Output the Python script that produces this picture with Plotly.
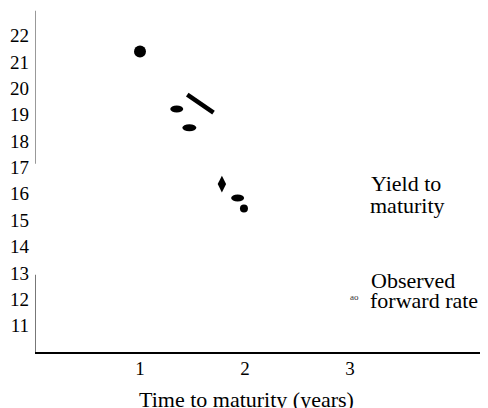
import plotly.graph_objects as go

# Data
y_ticks = [11, 12, 13, 14, 15, 16, 17, 18, 19, 20, 21, 22]
x_ticks = [1, 2, 3]

circle_x = [1.0, 1.99]
circle_y = [21.40, 15.44]
circle_size = [12, 8]

ellipse_x = [1.35, 1.47, 1.93]
ellipse_y = [19.22, 18.51, 15.84]
ellipse_w = [13, 14, 13]
ellipse_h = [7, 7, 7]

diamond_x = [1.78]
diamond_y = [16.37]

segment_x = [1.45, 1.70]
segment_y = [19.76, 19.08]

axis_segments = [(10.0, 12.93, "#777777"), (17.14, 22.95, "#999999")]

FONT = "Liberation Serif, Times New Roman, serif"

OFF = 8  # page body margin
W, H = 488 - OFF, 408 - OFF
ML, MR, MT, MB = 35 - OFF, 0, 0, 56
PW, PH = W - ML - MR, H - MT - MB
PX_X = 105.0
PX_Y = 26.36

def px(x):
    return (x - OFF - ML) / PW

def py(y):
    return (H - MB - (y - OFF)) / PH

fig = go.Figure()

fig.add_trace(go.Scatter(x=segment_x, y=segment_y, mode="lines",
                         line=dict(color="#000000", width=4.5), hoverinfo="skip"))
fig.add_trace(go.Scatter(x=circle_x, y=circle_y, mode="markers", opacity=1,
                         marker=dict(symbol="circle", size=circle_size, color="#000000",
                                     opacity=1, line=dict(width=0))))
fig.add_trace(go.Scatter(x=diamond_x, y=diamond_y, mode="markers",
                         marker=dict(symbol="diamond-tall", size=12, color="#000000",
                                     line=dict(width=0))))

shapes = []
for xv, yv, w, h in zip(ellipse_x, ellipse_y, ellipse_w, ellipse_h):
    shapes.append(dict(type="circle", xref="x", yref="y",
                       xsizemode="pixel", ysizemode="pixel",
                       xanchor=xv, yanchor=yv,
                       x0=-w / 2, x1=w / 2, y0=-h / 2, y1=h / 2,
                       fillcolor="black", line=dict(width=0)))
for y0, y1, col in axis_segments:
    shapes.append(dict(type="line", xref="x", yref="y", x0=0, x1=0, y0=y0, y1=y1,
                       line=dict(color=col, width=2)))

def label(text, x, y, size=22, anchor="left", color="black"):
    return dict(text=text, x=px(x), y=py(y), xref="paper", yref="paper",
                xanchor=anchor, yanchor="middle", align="left", showarrow=False,
                font=dict(family=FONT, size=size, color=color))

annotations = [
    label("Yield to", 369, 183.5),
    label("maturity", 368, 205),
    label("Observed", 369, 280.5),
    label("forward rate", 368, 300.5),
    label("ao", 354.5, 297, size=9, anchor="center", color="#333333"),
    label("Time to maturity (years)", 246, 399, anchor="center"),
]

fig.update_layout(
    width=W, height=H,
    margin=dict(l=ML, r=MR, t=MT, b=MB, pad=0),
    paper_bgcolor="white", plot_bgcolor="white",
    showlegend=False,
    shapes=shapes, annotations=annotations,
    font=dict(family=FONT, size=19, color="black"),
    xaxis=dict(range=[0, PW / PX_X], tickvals=x_ticks, ticktext=[str(v) for v in x_ticks],
               showgrid=False, zeroline=False, showline=True, linecolor="black", linewidth=2,
               ticks="", ticklabelstandoff=-2, tickfont=dict(family=FONT, size=19, color="black"),
               fixedrange=True),
    yaxis=dict(range=[10, 10 + PH / PX_Y], tickvals=y_ticks, ticktext=[str(v) for v in y_ticks],
               showgrid=False, zeroline=False, showline=False,
               ticks="", ticklabelstandoff=5, tickfont=dict(family=FONT, size=19, color="black"),
               fixedrange=True),
)

fig.write_html("out.html", config={"displayModeBar": False})
